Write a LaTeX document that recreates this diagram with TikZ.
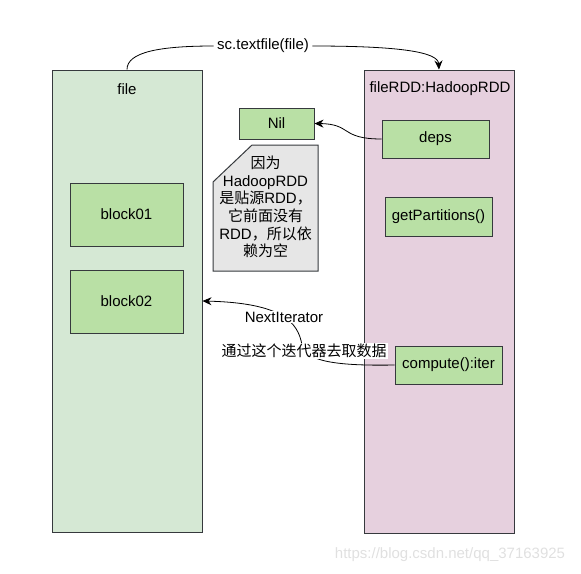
\documentclass[tikz,border=0pt]{standalone}
\usepackage{fontspec}
\setmainfont{Liberation Sans}
\newfontfamily\cjk{Noto Sans CJK SC}
\usetikzlibrary{arrows.meta}
\newcommand{\zh}[1]{{\cjk #1}}
\definecolor{vertclair}{HTML}{D5E8D4}
\definecolor{rose}{HTML}{E6D0DE}
\definecolor{vertbloc}{HTML}{B9E0A5}
\definecolor{gris}{HTML}{E6E6E6}
\definecolor{trait}{HTML}{36393D}
\begin{document}
\begin{tikzpicture}[x=1pt, y=-1pt, font=\fontsize{15}{17.6}\selectfont,
    boite/.style={draw=trait, line width=1pt, inner sep=0pt},
    bloc/.style={boite, fill=vertbloc},
    fleche/.style={-{Stealth[length=9pt, width=8pt]}, line width=0.8pt},
    etiquette/.style={fill=white, inner sep=1pt}]
    \useasboundingbox (0,0) rectangle (581,573);

    % Conteneurs
    \node[boite, fill=vertclair, minimum width=150pt, minimum height=462pt]
    (file) at (127,301) {};
    \node (filetitre) at (127,89) {file};
    \node[boite, fill=rose, minimum width=150pt, minimum height=463pt]
    (rdd) at (439,301.5) {};
    \node (rddtitre) at (440,89) {fileRDD:HadoopRDD};

    % Blocs du fichier
    \node[bloc, minimum width=113pt, minimum height=63pt] (block01) at (126.5,214.5) {block01};
    \node[bloc, minimum width=113pt, minimum height=63pt] (block02) at (126.5,301.5) {block02};

    % Membres du RDD
    \node[bloc, minimum width=107pt, minimum height=38pt] (deps) at (435.5,139) {deps};
    \node[bloc, minimum width=107pt, minimum height=39pt] (partitions) at (438.5,216.5) {getPartitions()};
    \node[bloc, minimum width=107pt, minimum height=38pt] (compute) at (448.5,365) {compute():iter};
    \node[bloc, minimum width=75pt, minimum height=31pt] (nil) at (276.5,123.5) {Nil};

    % Note
    \draw[boite, fill=gris] (213,182) -- (252,145) -- (318,145) -- (318,271)
    -- (213,271) -- cycle;
    \node[align=center] (note) at (265.5,207)
    {\zh{因为}\\HadoopRDD\\\zh{是贴源}RDD\zh{，}\\\zh{它前面没有}\\RDD\zh{，所以依}\\\zh{赖为空}};

    % Fleches
    \node (textfile) at (263,46) {sc.textfile(file)};
    \draw[line width=0.8pt] (file.north) .. controls (127,52) and (160,46) .. (textfile.west);
    \draw[fleche] (textfile.east) .. controls (400,46) and (438,52) .. (rdd.north);
    \draw[fleche] (deps.west) .. controls (340,139) and (352,124) .. (nil.east);
    \draw[fleche] (compute.west) .. controls (340,366) and (305,362) .. (302,345)
    .. controls (298,322) and (282,303) .. (file.east);
    \node[etiquette] (nextit) at (284,317) {NextIterator};
    \node[etiquette] (viaiter) at (304,351) {\zh{通过这个迭代器去取数据}};

    % Filigrane
    \node[text=black!12] (filigrane) at (450,555) {https://blog.csdn.net/qq\_37163925};
  \end{tikzpicture}
\end{document}
